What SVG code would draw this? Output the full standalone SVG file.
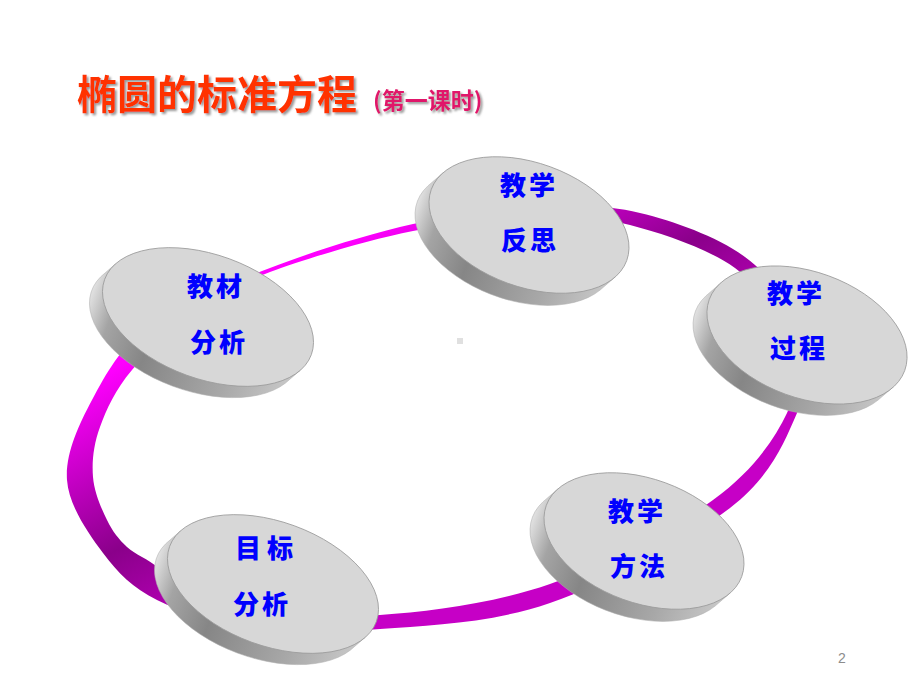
<svg xmlns="http://www.w3.org/2000/svg" width="920" height="690" viewBox="0 0 920 690">
<defs>
<linearGradient id="ringGrad" gradientUnits="userSpaceOnUse" x1="90" y1="380" x2="230" y2="640">
<stop offset="0" stop-color="#ff00ff"/>
<stop offset="0.55" stop-color="#8a008a"/>
<stop offset="0.8" stop-color="#b000b0"/>
<stop offset="1" stop-color="#c600c6"/>
</linearGradient>
<linearGradient id="sideGrad" x1="0" y1="0" x2="1" y2="0">
<stop offset="0" stop-color="#e2e2e2"/>
<stop offset="0.12" stop-color="#a4a4a4"/>
<stop offset="0.32" stop-color="#868686"/>
<stop offset="0.7" stop-color="#a8a8a8"/>
<stop offset="1" stop-color="#cacaca"/>
</linearGradient>
<filter id="shadow" x="-5%" y="-20%" width="110%" height="150%">
<feDropShadow dx="2" dy="2" stdDeviation="0.8" flood-color="#808080" flood-opacity="0.8"/>
</filter>
<path id="sideL" d="M 104.9 18.5 L 95.25 35.85 A 110 62 0 0 1 -114.55 -1.15 L -104.9 -18.5 A 110 62 0 0 0 104.9 18.5 Z"/>
<path id="sideS" d="M 98.7 19.5 L 89.05 36.85 A 104 62 0 0 1 -108.35 -2.15 L -98.7 -19.5 A 104 62 0 0 0 98.7 19.5 Z"/>
</defs>
<style>
.side{fill:url(#sideGrad);stroke:#b0b0b0;stroke-width:0.5}
.face{fill:#d7d7d7;stroke:#9c9c9c;stroke-width:0.8}
.lbl{font-family:"Noto Sans CJK SC","Noto Sans CJK JP",sans-serif;font-weight:900;font-size:26px;fill:#0000ff;letter-spacing:3px}
.title{font-family:"Noto Sans CJK SC","Noto Sans CJK JP",sans-serif;font-weight:700;font-size:40px;fill:#ff3300;filter:url(#shadow)}
.sub{font-family:"Noto Sans CJK SC","Noto Sans CJK JP",sans-serif;font-weight:700;font-size:23px;fill:#e0166a;filter:url(#shadow)}
</style>
<rect width="920" height="690" fill="#ffffff"/>

<g id="title">
<text class="title" x="77" y="109">椭圆的标准方程</text>
<text class="sub" x="373" y="109">(第一课时)</text>
</g>

<g id="connectors">
<path fill="url(#ringGrad)" fill-rule="evenodd" d="
M 67 480 C 65.2 454.5 78.2 425.8 92 400 C 105.8 374.2 120.3 347 150 325 C 179.7 303 226.2 284.8 270 268 C 313.8 251.2 368 234 413 224 C 458 214 502.2 209.8 540 208 C 577.8 206.2 605.8 204.8 640 213 C 674.2 221.2 717.5 236.7 745 257 C 772.5 277.3 796.3 309 805 335 C 813.7 361 809.5 384.2 797 413 C 784.5 441.8 771.2 476.3 730 508 C 688.8 539.7 608.3 582.8 550 603 C 491.7 623.2 430 625.2 380 629 C 330 632.8 287.2 630.8 250 626 C 212.8 621.2 181.5 612.2 157 600 C 132.5 587.8 118 573 103 553 C 88 533 68.8 505.5 67 480 Z
M 93 477 C 91.8 461.5 93.5 444.8 100 427 C 106.5 409.2 115.3 389.5 132 370 C 148.7 350.5 177 326.3 200 310 C 223 293.7 234.5 285.2 270 272 C 305.5 258.8 368 240 413 231 C 458 222 503.8 219 540 218 C 576.2 217 597.5 216.7 630 225 C 662.5 233.3 708.3 248.8 735 268 C 761.7 287.2 781.3 315.8 790 340 C 798.7 364.2 799.8 386.3 787 413 C 774.2 439.7 752.5 471.5 713 500 C 673.5 528.5 605.5 564.8 550 584 C 494.5 603.2 430 611.5 380 615 C 330 618.5 287.2 613 250 605 C 212.8 597 177.5 576.7 157 567 C 148.7 559.2 135.3 554.8 127 547 C 118.7 539.2 112.7 531.7 107 520 C 101.3 508.3 94.2 492.5 93 477 Z"/>
</g>

<g id="node-jiaocai">
<g transform="translate(208 317) rotate(20)">
<use href="#sideL" class="side"/>
<ellipse class="face" cx="0" cy="0" rx="110" ry="62"/>
</g>
<text class="lbl" x="187" y="296">教材</text>
<text class="lbl" x="190" y="352">分析</text>
</g>

<g id="node-fansi">
<g transform="translate(529 225) rotate(20)">
<use href="#sideS" class="side"/>
<ellipse class="face" cx="0" cy="0" rx="104" ry="62"/>
</g>
<text class="lbl" x="500" y="195">教学</text>
<text class="lbl" x="501" y="250">反思</text>
</g>

<g id="node-guocheng">
<g transform="translate(807 335) rotate(20)">
<use href="#sideS" class="side"/>
<ellipse class="face" cx="0" cy="0" rx="104" ry="63"/>
</g>
<text class="lbl" x="767" y="303">教学</text>
<text class="lbl" x="770" y="358">过程</text>
</g>

<g id="node-mubiao">
<g transform="translate(273 584) rotate(20)">
<use href="#sideL" class="side"/>
<ellipse class="face" cx="0" cy="0" rx="110" ry="62"/>
</g>
<text class="lbl" x="235" y="558" style="letter-spacing:6px">目标</text>
<text class="lbl" x="233" y="614">分析</text>
</g>

<g id="node-fangfa">
<g transform="translate(644 541) rotate(20)">
<use href="#sideS" class="side"/>
<ellipse class="face" cx="0" cy="0" rx="104" ry="62"/>
</g>
<text class="lbl" x="608" y="521">教学</text>
<text class="lbl" x="610" y="576">方法</text>
</g>

<rect x="457" y="338" width="6" height="6" fill="#e0e0e0"/>
<text x="838" y="663" font-family="Liberation Sans, Arial, sans-serif" font-size="14" fill="#8c8c8c">2</text>
</svg>
